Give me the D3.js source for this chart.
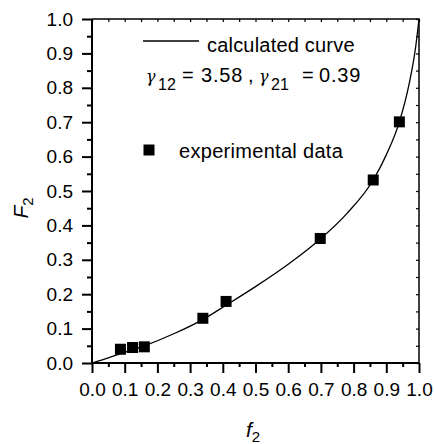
<!DOCTYPE html>
<html>
<head>
<meta charset="utf-8">
<script src="https://cdn.jsdelivr.net/npm/d3@7"></script>
<style>
  html, body { margin: 0; padding: 0; background: #fff; }
  svg text { font-family: "Liberation Sans", Arial, sans-serif; fill: #000; }
</style>
</head>
<body>
<svg class="chart" width="434" height="444"></svg>
<script>
// values
const majorTicks = [0, 0.1, 0.2, 0.3, 0.4, 0.5, 0.6, 0.7, 0.8, 0.9, 1.0]
const minorTicks = [0.05, 0.15, 0.25, 0.35, 0.45, 0.55, 0.65, 0.75, 0.85, 0.95]

// experimental data (f2, F2)
const expF2small = [0.087, 0.124, 0.160, 0.339, 0.410, 0.698, 0.860, 0.940]
const expF2big = [0.040, 0.045, 0.047, 0.130, 0.179, 0.362, 0.532, 0.701]

// calculated curve
const curveF2small = [0, 0.05, 0.10, 0.16, 0.25, 0.34, 0.41, 0.50, 0.60, 0.70, 0.78, 0.86, 0.90, 0.94, 0.97, 0.99, 1.0]
const curveF2big = [0, 0.015, 0.031, 0.050, 0.085, 0.127, 0.168, 0.222, 0.287, 0.362, 0.435, 0.532, 0.605, 0.701, 0.812, 0.920, 1.0]

const svg = d3.select("svg.chart")
const plotL = 92, plotR = 419, plotT = 19, plotB = 363

const x = d3.scaleLinear().domain([0, 1]).range([plotL, plotR])
const y = d3.scaleLinear().domain([0, 1]).range([plotB, plotT])
const fmt = d3.format(".1f")

// frame top / right
svg.append("path")
    .attr("d", `M${plotL},${plotT}H${plotR}V${plotB}`)
    .attr("fill", "none")
    .attr("stroke", "#000")
    .attr("stroke-width", 1.5)

// inward tiny ticks on top & right
svg.append("g")
    .attr("transform", `translate(0,${plotT})`)
    .call(d3.axisTop(x).tickValues(majorTicks.concat(minorTicks)).tickSize(-3).tickSizeOuter(0).tickFormat(""))
svg.append("g")
    .attr("transform", `translate(${plotR},0)`)
    .call(d3.axisRight(y).tickValues(majorTicks.concat(minorTicks)).tickSize(-3).tickSizeOuter(0).tickFormat(""))

// minor ticks left/bottom
svg.append("g")
    .attr("class", "minor")
    .attr("transform", `translate(${plotL},0)`)
    .call(d3.axisLeft(y).tickValues(minorTicks).tickSize(5).tickSizeOuter(0).tickFormat(""))
svg.append("g")
    .attr("class", "minor")
    .attr("transform", `translate(0,${plotB})`)
    .call(d3.axisBottom(x).tickValues(minorTicks).tickSize(4).tickSizeOuter(0).tickFormat(""))

// major axes
svg.append("g")
    .attr("class", "major")
    .attr("transform", `translate(${plotL},0)`)
    .call(d3.axisLeft(y).tickValues(majorTicks).tickFormat(fmt).tickSize(10).tickSizeOuter(0).tickPadding(9))
svg.append("g")
    .attr("class", "major")
    .attr("transform", `translate(0,${plotB})`)
    .call(d3.axisBottom(x).tickValues(majorTicks).tickFormat(fmt).tickSize(10).tickSizeOuter(0).tickPadding(10))

svg.selectAll("g.tick line").attr("stroke", "#000").attr("stroke-width", 1.2)
svg.selectAll("g.major .tick line, g.minor .tick line").attr("stroke-width", 2)
svg.selectAll(".domain").attr("stroke", "none")
svg.selectAll("g.major text").attr("font-size", 19).attr("font-family", null)

// left & bottom axis lines (thicker)
svg.append("path")
    .attr("d", `M${plotL},${plotT}V${plotB}H${plotR}`)
    .attr("fill", "none")
    .attr("stroke", "#000")
    .attr("stroke-width", 2)

// curve
const line = d3.line()
    .x((d, i) => x(curveF2small[i]))
    .y((d, i) => y(curveF2big[i]))
    .curve(d3.curveMonotoneX)
svg.append("path")
    .datum(curveF2small)
    .attr("d", line)
    .attr("fill", "none")
    .attr("stroke", "#000")
    .attr("stroke-width", 1.3)

// experimental points
const sq = 11
svg.append("g")
    .selectAll("rect")
    .data(expF2small)
    .join("rect")
    .attr("x", (d) => x(d) - sq / 2)
    .attr("y", (d, i) => y(expF2big[i]) - sq / 2)
    .attr("width", sq)
    .attr("height", sq)
    .attr("fill", "#000")

// legend
svg.append("line")
    .attr("x1", 143).attr("x2", 199)
    .attr("y1", 41).attr("y2", 41)
    .attr("stroke", "#000").attr("stroke-width", 1.3)
svg.append("text")
    .attr("x", 207).attr("y", 52)
    .attr("font-size", 20)
    .attr("letter-spacing", 0.2)
    .text("calculated curve")

const g = svg.append("text").attr("y", 82).attr("font-size", 20)
g.append("tspan").attr("x", 146).attr("font-family", "'DejaVu Serif', serif").attr("font-style", "italic").attr("font-size", 16).text("γ")
g.append("tspan").attr("x", 158).attr("y", 90).attr("font-size", 16).text("12")
g.append("tspan").attr("x", 182).attr("y", 82).text("=")
g.append("tspan").attr("x", 201).attr("letter-spacing", 0.8).text("3.58")
g.append("tspan").attr("x", 248).text(",")
g.append("tspan").attr("x", 259).attr("font-family", "'DejaVu Serif', serif").attr("font-style", "italic").attr("font-size", 16).text("γ")
g.append("tspan").attr("x", 271).attr("y", 90).attr("font-size", 16).text("21")
g.append("tspan").attr("x", 302).attr("y", 82).text("=")
g.append("tspan").attr("x", 319).attr("letter-spacing", 0.8).text("0.39")

svg.append("rect")
    .attr("x", 149 - sq / 2).attr("y", 150 - sq / 2)
    .attr("width", sq).attr("height", sq)
    .attr("fill", "#000")
svg.append("text")
    .attr("x", 179).attr("y", 158)
    .attr("font-size", 20)
    .attr("letter-spacing", 0.3)
    .text("experimental data")

// axis titles
const yt = svg.append("text")
    .attr("transform", "translate(28,208) rotate(-90)")
    .attr("text-anchor", "middle")
    .attr("font-size", 21)
yt.append("tspan").attr("font-style", "italic").text("F")
yt.append("tspan").attr("font-size", 15).attr("dy", 5).text("2")

const xt = svg.append("text")
    .attr("x", 253).attr("y", 437)
    .attr("text-anchor", "middle")
    .attr("font-size", 21)
xt.append("tspan").attr("font-style", "italic").text("f")
xt.append("tspan").attr("font-size", 15).attr("dy", 5).text("2")
</script>
</body>
</html>
